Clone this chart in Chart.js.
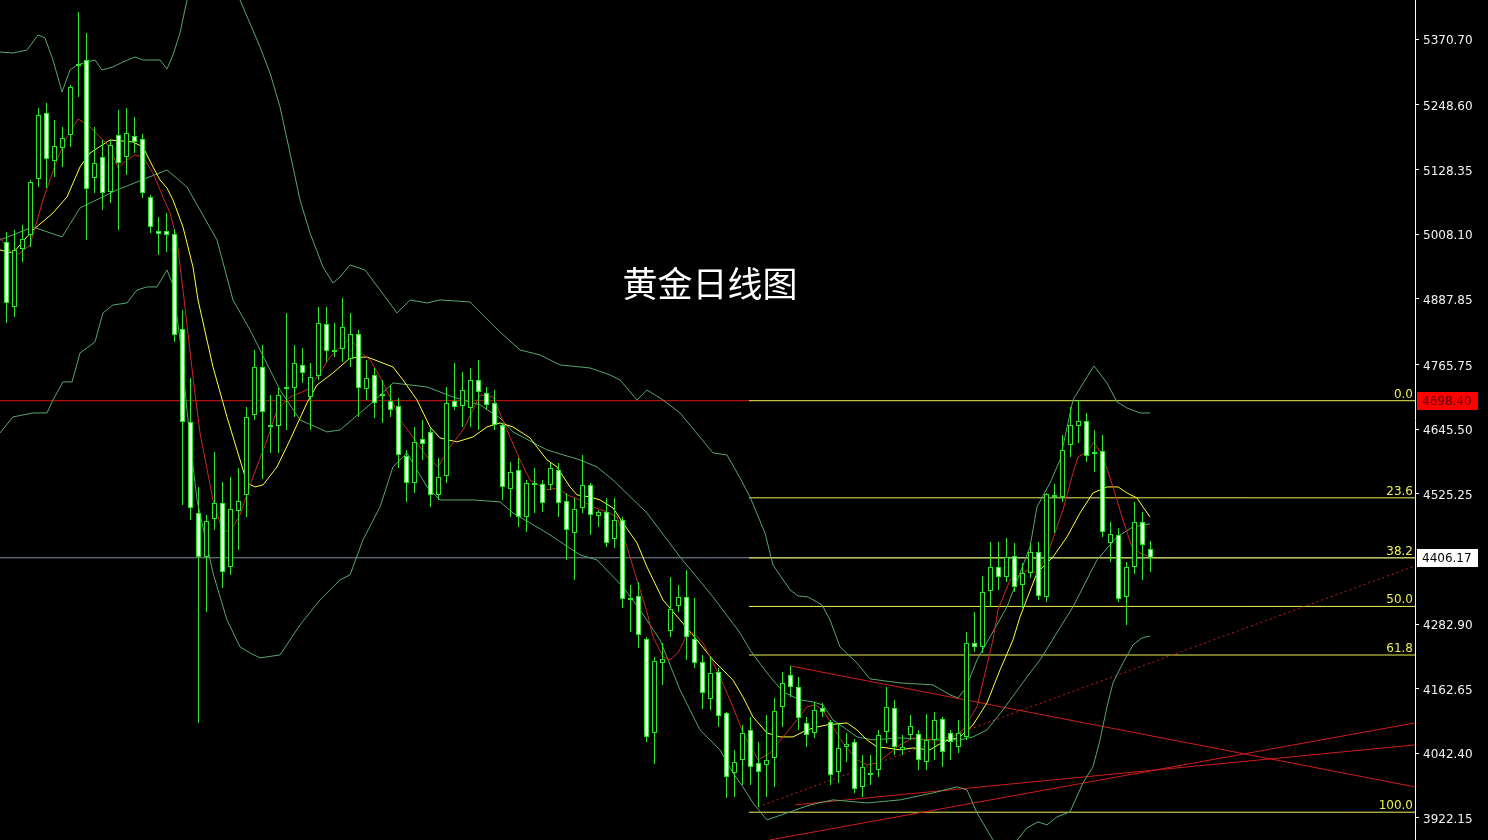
<!DOCTYPE html>
<html>
<head>
<meta charset="utf-8">
<title>黄金日线图</title>
<script src="https://cdn.jsdelivr.net/npm/chart.js@4.4.1/dist/chart.umd.min.js"></script>
<style>
  html, body { margin: 0; padding: 0; background: #000; }
</style>
</head>
<body>
<canvas id="goldChart" width="1488" height="840"></canvas>
<script>
const chartTitle = "黄金日线图"

// daily candles, index 0 = leftmost bar on screen
const candleOpen = [
    4993.7, 4872.8, 4980.7, 5006.7, 5110.9, 5233.6, 5144.3, 5168.5, 5192.7, 5321.0,
    5332.2, 5112.7, 5151.8, 5086.7, 5192.7, 5151.8, 5190.8, 5185.3, 5077.4, 5014.1,
    5014.1, 5008.6, 4831.9, 4658.9, 4489.6, 4407.8, 4478.5, 4508.2, 4389.2, 4493.3,
    4523.1, 4671.9, 4761.2, 4649.6, 4651.4, 4720.3, 4722.1, 4764.9, 4705.4, 4744.4,
    4841.2, 4789.1, 4794.7, 4776.1, 4822.6, 4720.3, 4746.3, 4707.2, 4697.9, 4688.6,
    4595.6, 4545.4, 4627.3, 4640.3, 4523.1, 4558.4, 4697.9, 4688.6, 4684.9, 4737.0,
    4712.8, 4694.2, 4653.3, 4534.3, 4569.6, 4482.2, 4541.7, 4543.6, 4541.7, 4569.6,
    4511.9, 4452.4, 4498.9, 4541.7, 4484.0, 4491.5, 4441.3, 4476.6, 4331.5, 4335.2,
    4255.3, 4080.4, 4210.6, 4270.1, 4316.6, 4333.4, 4255.3, 4212.5, 4143.7, 4193.9,
    4117.6, 4006.0, 4030.2, 4086.0, 4024.6, 4020.9, 4033.9, 4128.8, 4188.3, 4166.0,
    4099.0, 4080.4, 4126.9, 4100.9, 4007.9, 4054.4, 4063.7, 3980.0, 4002.3, 4011.6,
    4082.3, 4126.9, 4048.8, 4076.7, 4078.6, 4026.5, 4067.4, 4106.5, 4080.4, 4054.4,
    4073.0, 4247.8, 4240.4, 4344.5, 4389.2, 4370.6, 4409.6, 4355.7, 4378.0, 4417.1,
    4333.4, 4519.4, 4519.4, 4616.1, 4651.4, 4660.7, 4603.1, 4604.9, 4433.8, 4448.7,
    4333.4, 4389.2, 4472.9, 4422.7
]
const candleHigh = [
    5012.3, 5016.0, 5025.3, 5109.0, 5242.9, 5252.2, 5220.6, 5207.6, 5285.7, 5421.5,
    5382.4, 5207.6, 5183.4, 5183.4, 5239.2, 5242.9, 5226.2, 5194.6, 5081.1, 5040.2,
    5047.6, 5017.9, 4867.2, 4740.7, 4538.0, 4485.9, 4603.1, 4547.3, 4556.6, 4573.3,
    4686.8, 4792.8, 4802.1, 4709.1, 4722.1, 4861.6, 4802.1, 4796.5, 4768.6, 4872.8,
    4872.8, 4843.0, 4889.5, 4861.6, 4830.0, 4774.2, 4759.3, 4737.0, 4727.7, 4703.5,
    4606.8, 4649.6, 4662.6, 4647.7, 4591.9, 4724.0, 4768.6, 4751.9, 4759.3, 4774.2,
    4724.0, 4718.4, 4657.0, 4584.5, 4591.9, 4551.0, 4573.3, 4551.0, 4582.6, 4582.6,
    4526.8, 4517.5, 4597.5, 4545.4, 4495.2, 4517.5, 4517.5, 4482.2, 4355.7, 4361.3,
    4259.0, 4221.8, 4247.8, 4370.6, 4355.7, 4383.6, 4331.5, 4225.5, 4221.8, 4201.3,
    4119.5, 4048.8, 4095.3, 4110.2, 4063.7, 4113.9, 4145.5, 4193.9, 4205.0, 4184.6,
    4110.2, 4138.1, 4136.2, 4104.6, 4099.0, 4080.4, 4069.3, 4039.5, 4039.5, 4086.0,
    4166.0, 4141.8, 4076.7, 4113.9, 4086.0, 4115.8, 4119.5, 4110.2, 4086.0, 4104.6,
    4268.3, 4305.5, 4372.4, 4435.7, 4435.7, 4443.1, 4433.8, 4396.6, 4433.8, 4435.7,
    4526.8, 4543.6, 4634.7, 4686.8, 4699.8, 4675.6, 4644.0, 4634.7, 4472.9, 4461.7,
    4398.5, 4510.1, 4491.5, 4437.5
]
const candleLow = [
    4843.0, 4854.2, 4956.5, 4984.4, 5096.0, 5094.1, 5114.6, 5133.2, 5170.4, 5263.4,
    4997.4, 5084.8, 5053.2, 5066.2, 5016.0, 5118.3, 5159.2, 5075.5, 5010.4, 4969.5,
    4975.1, 4807.7, 4504.5, 4476.6, 4099.0, 4305.5, 4458.0, 4350.1, 4374.3, 4420.8,
    4482.2, 4662.6, 4552.9, 4601.2, 4601.2, 4644.0, 4668.2, 4731.4, 4644.0, 4737.0,
    4770.5, 4779.8, 4770.5, 4761.2, 4668.2, 4699.8, 4666.3, 4657.0, 4668.2, 4573.3,
    4510.1, 4526.8, 4588.2, 4500.8, 4513.8, 4545.4, 4681.2, 4649.6, 4649.6, 4644.0,
    4681.2, 4644.0, 4513.8, 4482.2, 4463.6, 4454.3, 4489.6, 4491.5, 4532.4, 4482.2,
    4402.2, 4365.0, 4489.6, 4448.7, 4463.6, 4426.4, 4424.5, 4312.9, 4268.3, 4238.5,
    4063.7, 4022.8, 4169.7, 4259.0, 4305.5, 4216.2, 4201.3, 4125.1, 4123.2, 4091.6,
    3959.5, 3961.4, 3983.7, 3983.7, 3942.8, 3961.4, 3980.0, 4091.6, 4147.4, 4086.0,
    4054.4, 4071.1, 4110.2, 3983.7, 3987.4, 4026.5, 3968.8, 3961.4, 3983.7, 3998.6,
    4061.8, 4039.5, 4039.5, 4067.4, 4011.6, 4011.6, 4030.2, 4017.2, 4030.2, 4043.2,
    4067.4, 4231.1, 4229.2, 4314.8, 4346.4, 4361.3, 4342.7, 4312.9, 4368.7, 4327.8,
    4324.1, 4452.4, 4510.1, 4593.8, 4619.8, 4584.5, 4565.9, 4445.0, 4398.5, 4324.1,
    4281.3, 4376.2, 4365.0, 4379.9
]
const candleClose = [
    4880.2, 4978.8, 4999.3, 5105.3, 5229.9, 5148.1, 5172.2, 5187.1, 5282.0, 5324.8,
    5092.3, 5140.6, 5084.8, 5174.1, 5140.6, 5196.4, 5179.7, 5084.8, 5021.6, 5008.6,
    5006.7, 4820.7, 4658.9, 4498.9, 4407.8, 4474.7, 4508.2, 4379.9, 4497.1, 4511.9,
    4668.2, 4761.2, 4677.5, 4653.3, 4709.1, 4724.0, 4768.6, 4750.0, 4742.6, 4843.0,
    4790.9, 4792.8, 4835.6, 4822.6, 4722.1, 4740.7, 4694.2, 4711.0, 4681.2, 4597.5,
    4545.4, 4621.7, 4618.0, 4523.1, 4556.6, 4694.2, 4686.8, 4718.4, 4737.0, 4714.7,
    4690.5, 4653.3, 4538.0, 4565.9, 4482.2, 4545.4, 4545.4, 4508.2, 4573.3, 4508.2,
    4458.0, 4497.1, 4541.7, 4485.9, 4491.5, 4433.8, 4476.6, 4329.7, 4327.8, 4262.7,
    4073.0, 4214.3, 4218.1, 4311.1, 4333.4, 4259.0, 4210.6, 4154.8, 4192.0, 4112.0,
    3998.6, 4026.5, 4080.4, 4017.2, 4007.9, 4030.2, 4121.3, 4173.4, 4166.0, 4108.3,
    4076.7, 4123.2, 4119.5, 4002.3, 4052.5, 4060.0, 3976.3, 4017.2, 4006.0, 4076.7,
    4128.8, 4054.4, 4054.4, 4093.4, 4030.2, 4067.4, 4104.6, 4045.1, 4063.7, 4080.4,
    4247.8, 4240.4, 4342.7, 4389.2, 4370.6, 4407.8, 4352.0, 4378.0, 4417.1, 4335.2,
    4525.0, 4523.1, 4606.8, 4653.3, 4660.7, 4595.6, 4599.4, 4454.3, 4450.6, 4329.7,
    4389.2, 4472.9, 4430.1, 4406.17
]

// indicator lines: [bar index, price]
const bbUpper = [
    [-0.81, 5347.1], [0.81, 5345.2], [2.56, 5350.8], [3.94, 5378.7], [4.81, 5373.1], [5.81, 5332.2],
    [6.94, 5272.7], [7.94, 5313.6], [8.81, 5322.9], [10.06, 5328.5], [11.06, 5332.2], [11.94, 5313.6],
    [13.31, 5319.2], [14.56, 5328.5], [16.06, 5337.8], [17.06, 5332.2], [19.19, 5332.2], [20.06, 5315.5],
    [20.81, 5341.5], [21.69, 5382.4], [22.56, 5443.8], [24, 5530], [28, 5530], [29.19, 5443.8],
    [31.69, 5356.4], [32.94, 5308.0], [34.19, 5244.8], [35.44, 5159.2], [36.69, 5071.8], [37.94, 5010.4],
    [39.56, 4947.2], [40.81, 4917.4], [41.69, 4928.6], [42.94, 4950.9], [44.81, 4941.6], [46.69, 4904.4],
    [48.81, 4861.6], [50.44, 4885.8], [52.56, 4880.2], [54.19, 4885.8], [57.94, 4882.1], [61.69, 4826.3],
    [64.19, 4792.8], [66.69, 4783.5], [69.19, 4764.9], [72.94, 4759.3], [75.44, 4746.3], [76.69, 4737.0],
    [78.81, 4699.8], [80.06, 4718.4], [82.06, 4699.8], [84.19, 4675.6], [88.31, 4601.2], [90.06, 4597.5],
    [91.69, 4554.7], [92.94, 4519.4], [94.81, 4452.4], [95.81, 4392.9], [97.94, 4346.4], [98.94, 4335.2],
    [100.19, 4333.4], [101.94, 4318.5], [102.94, 4290.6], [104.19, 4240.4], [106.31, 4210.6], [107.94, 4180.9],
    [111.69, 4173.4], [115.81, 4169.7], [117.94, 4151.1], [118.94, 4145.5], [119.94, 4163.9], [121.31, 4216.2],
    [122.94, 4259.0], [125.06, 4314.8], [126.69, 4378.0], [127.94, 4426.4], [128.81, 4500.8], [130.44, 4545.4],
    [131.69, 4588.2], [133.31, 4699.8], [135.06, 4742.6], [135.94, 4763.0], [137.56, 4731.4], [138.81, 4696.1],
    [140.06, 4684.9], [141.69, 4675.6], [142.94, 4675.6]
]
const bbMiddle = [
    [-0.81, 4997.4], [3.31, 5021.6], [6.94, 5003.0], [9.19, 5056.9], [13.81, 5090.4], [20.06, 5127.6],
    [22.56, 5096.0], [26.31, 4997.4], [28.31, 4885.8], [30.44, 4830.0], [34.19, 4718.4], [36.69, 4662.6],
    [40.06, 4640.3], [41.69, 4644.0], [45.81, 4696.1], [48.31, 4731.4], [52.56, 4724.0], [55.81, 4705.4],
    [59.19, 4690.5], [61.69, 4666.3], [63.31, 4640.3], [67.56, 4606.8], [71.69, 4588.2], [73.81, 4575.2],
    [75.81, 4551.0], [80.06, 4489.6], [84.19, 4407.8], [88.31, 4333.4], [91.69, 4266.4], [92.94, 4234.8],
    [95.06, 4192.0], [97.06, 4156.7], [99.19, 4141.8], [100.81, 4138.1], [102.06, 4132.5], [103.31, 4104.6],
    [104.56, 4091.6], [106.31, 4073.0], [108.31, 4067.4], [111.69, 4071.1], [115.81, 4067.4], [119.19, 4067.4],
    [120.81, 4073.0], [122.56, 4086.0], [124.56, 4123.2], [127.56, 4184.6], [129.19, 4216.2], [133.31, 4314.8],
    [136.31, 4402.2], [138.81, 4445.0], [140.81, 4463.6], [142.94, 4469.2]
]
const bbLower = [
    [-0.81, 4638.4], [0.81, 4668.2], [3.31, 4675.6], [5.06, 4675.6], [5.81, 4699.8], [7.06, 4733.3],
    [8.19, 4733.3], [9.19, 4787.2], [11.06, 4807.7], [12.06, 4861.6], [13.31, 4876.5], [15.06, 4880.2],
    [16.31, 4904.4], [17.56, 4910.0], [18.81, 4910.0], [20.06, 4941.6], [20.81, 4913.7], [21.69, 4811.4],
    [22.94, 4625.4], [23.81, 4513.8], [25.81, 4378.0], [27.56, 4290.6], [29.19, 4240.4], [30.44, 4229.2],
    [31.69, 4219.9], [34.19, 4225.5], [35.44, 4253.4], [36.69, 4281.3], [39.19, 4327.8], [41.69, 4365.0],
    [42.94, 4374.3], [44.56, 4439.4], [46.69, 4500.8], [48.31, 4575.2], [50.06, 4601.2], [52.56, 4538.0],
    [54.19, 4513.8], [58.31, 4513.8], [61.69, 4510.1], [63.31, 4489.6], [67.56, 4452.4], [71.69, 4411.5],
    [73.81, 4402.2], [77.06, 4352.0], [79.19, 4309.2], [81.69, 4253.4], [84.19, 4160.4], [86.69, 4086.0],
    [89.19, 4048.8], [90.81, 4006.0], [92.06, 3979.9], [93.31, 3950.2], [95.06, 3918.6], [97.94, 3933.5],
    [100.44, 3946.5], [103.31, 3955.8], [107.56, 3950.2], [111.69, 3955.8], [115.81, 3968.8], [118.81, 3980.0],
    [120.06, 3974.4], [121.31, 3931.6], [123.31, 3881.4], [124.81, 3853.5], [127.56, 3903.7], [128.94, 3914.9],
    [130.06, 3909.3], [131.31, 3924.2], [132.94, 3933.5], [134.56, 3987.4], [135.81, 4017.2], [136.69, 4067.4],
    [137.56, 4128.8], [138.31, 4173.4], [139.56, 4210.6], [140.81, 4244.1], [141.94, 4257.1], [142.94, 4260.8]
]
const maFast = [
    [-0.81, 5001.1], [1.06, 4965.8], [2.94, 4988.1], [4.56, 5071.8], [6.31, 5146.2], [7.56, 5189.0],
    [8.94, 5222.5], [10.19, 5211.3], [11.69, 5189.0], [12.94, 5170.4], [13.94, 5131.3], [15.06, 5146.2],
    [16.06, 5155.5], [17.06, 5151.8], [18.31, 5122.0], [19.56, 5077.4], [20.44, 5047.6], [21.31, 4997.4],
    [22.06, 4904.4], [23.31, 4742.6], [24.19, 4638.4], [25.81, 4513.8], [26.94, 4458.0], [27.94, 4454.3],
    [29.19, 4485.9], [30.81, 4556.6], [32.56, 4625.4], [33.81, 4681.2], [35.44, 4705.4], [37.56, 4718.4],
    [39.19, 4750.0], [40.44, 4779.8], [42.94, 4815.1], [44.19, 4789.1], [45.44, 4774.2], [46.69, 4742.6],
    [48.31, 4694.2], [49.19, 4662.6], [50.81, 4631.0], [52.56, 4593.8], [53.94, 4575.2], [55.44, 4612.4],
    [57.06, 4644.0], [58.31, 4681.2], [59.19, 4709.1], [60.81, 4705.4], [62.56, 4644.0], [64.19, 4588.2],
    [65.44, 4551.0], [67.56, 4532.4], [68.94, 4536.1], [70.06, 4523.1], [71.69, 4513.8], [73.31, 4500.8],
    [75.06, 4491.5], [76.31, 4482.2], [77.56, 4426.4], [78.81, 4365.0], [80.06, 4305.5], [80.81, 4259.0],
    [82.06, 4221.8], [82.94, 4216.2], [83.94, 4229.2], [85.06, 4262.7], [85.81, 4266.4], [87.06, 4247.8],
    [88.31, 4210.6], [89.19, 4184.6], [90.81, 4128.8], [92.06, 4080.4], [93.94, 4030.2], [95.44, 4043.2],
    [97.06, 4073.0], [98.81, 4104.6], [100.06, 4128.8], [101.06, 4132.5], [102.06, 4123.2], [103.31, 4091.6],
    [104.56, 4061.8], [106.31, 4030.2], [107.56, 4020.9], [108.81, 4024.6], [110.44, 4043.2], [111.69, 4058.1],
    [113.31, 4071.1], [115.06, 4067.4], [116.69, 4071.1], [118.31, 4073.0], [119.56, 4086.0], [121.31, 4128.8],
    [122.56, 4206.9], [123.31, 4253.4], [123.94, 4309.2], [125.44, 4365.0], [127.69, 4383.6], [128.94, 4377.0],
    [130.44, 4426.4], [132.06, 4495.2], [133.31, 4564.0], [133.94, 4593.8], [135.06, 4603.1], [135.94, 4621.7],
    [137.06, 4593.8], [138.31, 4538.0], [139.56, 4476.6], [140.69, 4426.4], [141.69, 4415.2], [142.94, 4407.8]
]
const maSlow = [
    [-0.81, 4978.8], [0.81, 4973.2], [3.31, 5016.0], [5.81, 5047.6], [7.56, 5077.4], [9.19, 5133.2],
    [10.44, 5159.2], [12.94, 5183.4], [15.81, 5179.7], [17.06, 5170.4], [18.31, 5133.2], [19.19, 5109.0],
    [20.06, 5094.1], [20.81, 5071.8], [22.06, 5021.6], [23.31, 4947.2], [23.94, 4885.8], [25.81, 4761.2],
    [27.56, 4668.2], [28.81, 4606.8], [30.06, 4545.4], [31.06, 4538.0], [32.06, 4541.7], [33.81, 4575.2],
    [35.44, 4625.4], [37.56, 4694.2], [38.81, 4727.7], [40.81, 4750.0], [42.94, 4777.9], [45.06, 4779.8],
    [46.69, 4770.5], [48.31, 4761.2], [49.56, 4737.0], [51.31, 4699.8], [52.94, 4649.6], [54.19, 4629.1],
    [56.31, 4621.7], [58.31, 4631.0], [60.06, 4649.6], [61.69, 4657.0], [63.31, 4649.6], [65.44, 4629.1],
    [67.56, 4588.2], [68.81, 4575.2], [70.44, 4538.0], [71.31, 4523.1], [72.94, 4519.4], [74.19, 4513.8],
    [75.81, 4498.9], [77.06, 4471.0], [78.81, 4433.8], [80.06, 4389.2], [82.06, 4327.8], [84.19, 4290.6],
    [86.31, 4253.4], [88.31, 4216.2], [90.81, 4178.6], [92.06, 4147.4], [93.31, 4110.2], [95.06, 4080.4],
    [96.69, 4073.0], [98.31, 4073.0], [99.56, 4082.3], [100.81, 4089.7], [102.56, 4095.3], [105.06, 4099.0],
    [106.31, 4086.0], [107.56, 4067.4], [108.81, 4054.4], [110.06, 4052.5], [111.69, 4048.8], [113.31, 4052.5],
    [115.44, 4048.8], [117.06, 4063.7], [119.19, 4073.0], [120.81, 4095.3], [122.56, 4136.2], [124.19, 4197.6],
    [125.81, 4253.4], [126.69, 4296.2], [128.81, 4378.0], [130.81, 4407.8], [132.56, 4445.0], [134.19, 4489.6],
    [135.81, 4526.8], [137.56, 4538.0], [138.94, 4538.0], [140.06, 4526.8], [141.31, 4517.5], [142.06, 4500.8],
    [142.94, 4482.2]
]

// drawn objects: trend lines [start, end] as [bar index, price]
const trendDown = [[97.94, 4205.0], [176.06, 3980.0]]
const trendDotted = [[93.94, 3942.8], [176.06, 4391.0]]
const trendUpA = [[95.44, 3881.4], [176.06, 4099.0]]
const trendUpB = [[98.56, 3946.5], [176.06, 4058.1]]

const fibLabels = ["0.0", "23.6", "38.2", "50.0", "61.8", "100.0"]
const fibLevels = [4698.4, 4517.7, 4406.0, 4315.7, 4225.3, 3932.9]
const fibStart = 92.81
const resistLevel = 4698.40
const lastPrice = 4406.17

const tickValues = [5370.70, 5248.60, 5128.35, 5008.10, 4887.85, 4765.75, 4645.50, 4525.25, 4282.90, 4162.65, 4042.40, 3922.15]

const X_MIN = -0.8125
const X_MAX = 176.0625

const GREEN = "#2ee62e"
const BAND = "#55a86c"
const FIB = "#eeee55"

const pts = arr => arr.map(p => ({x: p[0], y: p[1]}))

const lineSet = (data, color, order, extra) => Object.assign({
    type: "line",
    data: data,
    borderColor: color,
    borderWidth: 1,
    pointRadius: 0,
    tension: 0,
    fill: false,
    order: order
}, extra || {})

const wicks = candleOpen.map((o, i) => ({x: i, y: [candleLow[i], candleHigh[i]]}))
const bodies = candleOpen.map((o, i) => ({x: i, y: [o, candleClose[i]]}))
const bodyFill = candleOpen.map((o, i) => candleClose[i] < o ? "#f4fff0" : "#000000")

const datasets = [
    lineSet(pts([[X_MIN, resistLevel], [fibStart, resistLevel]]), "#d81414", 20),
    lineSet(pts([[X_MIN, lastPrice], [X_MAX, lastPrice]]), "#8490a4", 20),
    ...fibLevels.map(v => lineSet(pts([[fibStart, v], [X_MAX, v]]), FIB, 19)),
    lineSet(pts(trendDown), "#d01c1c", 18),
    lineSet(pts(trendUpA), "#d01c1c", 18),
    lineSet(pts(trendUpB), "#d01c1c", 18),
    lineSet(pts(trendDotted), "#d01c1c", 18, {borderDash: [2, 3]}),
    lineSet(pts(bbUpper), BAND, 10),
    lineSet(pts(bbMiddle), BAND, 10),
    lineSet(pts(bbLower), BAND, 10),
    lineSet(pts(maSlow), "#ffff3c", 9),
    lineSet(pts(maFast), "#c82828", 8),
    {
        type: "bar",
        data: wicks,
        backgroundColor: GREEN,
        borderWidth: 0,
        barThickness: 1,
        grouped: false,
        inflateAmount: 0,
        order: 2
    },
    {
        type: "bar",
        data: bodies,
        backgroundColor: bodyFill,
        borderColor: GREEN,
        borderWidth: 1,
        borderSkipped: false,
        barThickness: 5,
        grouped: false,
        inflateAmount: 0,
        order: 1
    }
]

// title, fibo level names and the two price tags on the axis
const overlay = {
    id: "overlay",
    afterDraw(chart) {
        const ctx = chart.ctx
        const area = chart.chartArea
        const y = chart.scales.y
        ctx.save()

        ctx.fillStyle = "#ffffff"
        ctx.font = '35px "Noto Sans CJK SC"'
        ctx.textAlign = "center"
        ctx.textBaseline = "middle"
        ctx.fillText(chartTitle, 710, 284)

        ctx.font = '12px "DejaVu Sans"'
        ctx.textAlign = "right"
        ctx.textBaseline = "alphabetic"
        ctx.fillStyle = FIB
        fibLevels.forEach((v, k) => {
            ctx.fillText(fibLabels[k], area.right - 2, Math.round(y.getPixelForValue(v)) - 3)
        })

        const tag = (value, bg, fg) => {
            const py = Math.round(y.getPixelForValue(value))
            ctx.fillStyle = bg
            ctx.fillRect(area.right + 2, py - 9, 61, 18)
            ctx.fillStyle = fg
            ctx.textAlign = "left"
            ctx.textBaseline = "middle"
            ctx.fillText(value.toFixed(2), area.right + 7, py + 1)
        }
        tag(resistLevel, "#ff0000", "#5a0000")
        tag(lastPrice, "#ffffff", "#000000")

        ctx.restore()
    }
}

new Chart(document.getElementById("goldChart"), {
    type: "bar",
    data: {datasets: datasets},
    options: {
        responsive: false,
        animation: false,
        devicePixelRatio: 1,
        layout: {padding: 0},
        plugins: {legend: {display: false}, tooltip: {enabled: false}},
        scales: {
            x: {
                type: "linear",
                min: X_MIN,
                max: X_MAX,
                offset: false,
                display: false
            },
            y: {
                type: "linear",
                position: "right",
                min: 3881.2,
                max: 5443.8,
                grid: {drawOnChartArea: false, drawTicks: true, tickLength: 4, color: "#ffffff"},
                border: {display: true, color: "#ffffff", width: 1},
                ticks: {
                    color: "#f2f2f2",
                    padding: 4,
                    labelOffset: 2,
                    autoSkip: false,
                    font: {family: "DejaVu Sans", size: 12},
                    callback: v => Number(v).toFixed(2)
                },
                afterBuildTicks: s => { s.ticks = tickValues.map(v => ({value: v})) },
                afterFit: s => { s.width = 73; s.paddingTop = 0; s.paddingBottom = 0 }
            }
        }
    },
    plugins: [overlay]
})
</script>
</body>
</html>
